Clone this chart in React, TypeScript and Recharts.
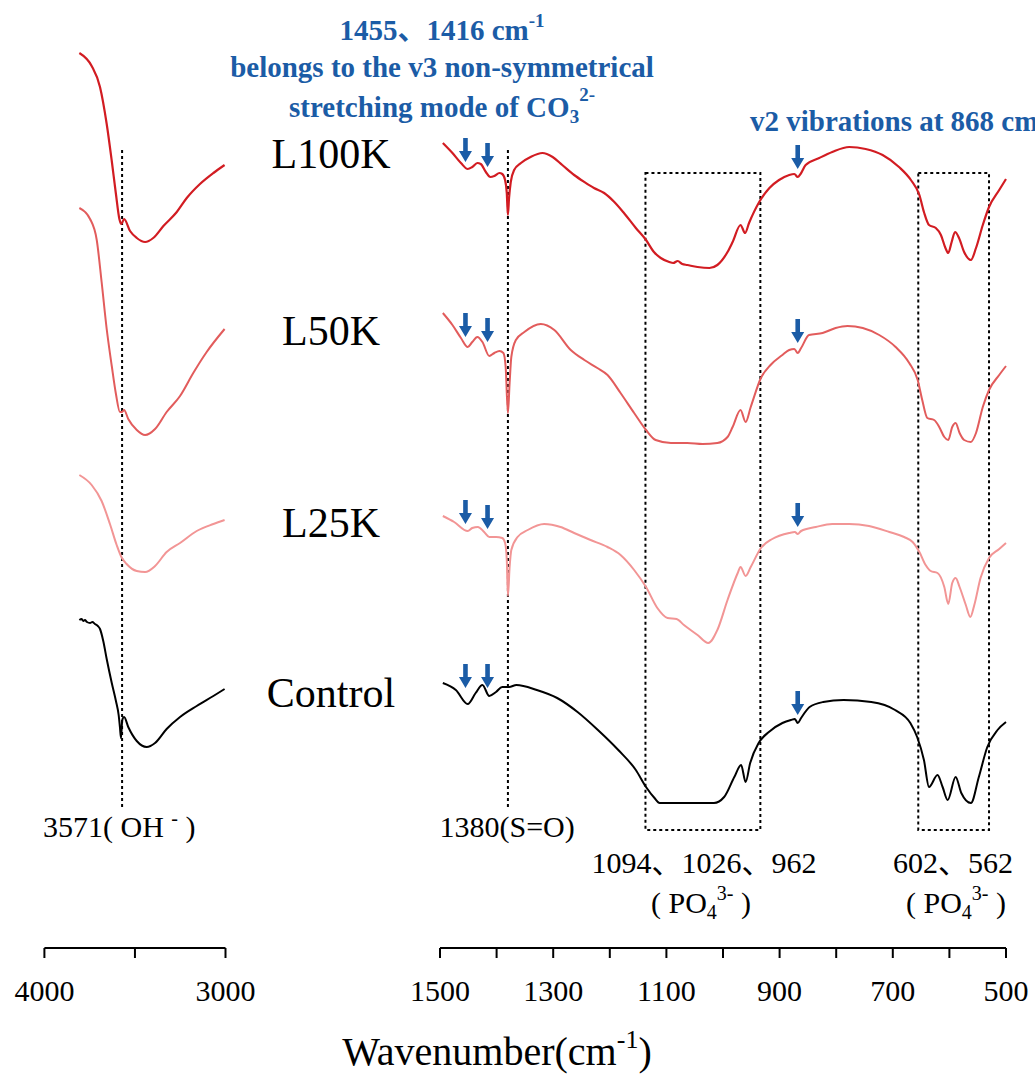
import React from 'react';
import {
  LineChart,
  Line,
  XAxis,
  YAxis,
  ReferenceLine,
  ReferenceArea,
  ReferenceDot,
} from 'recharts';

// FTIR spectra: [wavenumber (cm-1), stacked transmittance (a.u.)]
type Pt = [number, number];

// O–H stretching window (4000–3000 cm-1)
const L100K_OH: Pt[] = [
  [3807, 895], [3739, 882], [3693, 861], [3656, 824], [3628, 787], [3605, 754],
  [3586, 729], [3575, 724], [3560, 729], [3527, 717], [3490, 710], [3444, 706],
  [3399, 710], [3343, 722], [3269, 736], [3214, 750], [3141, 764], [3067, 775],
  [3005, 783],
];
const L50K_OH: Pt[] = [
  [3807, 740], [3748, 729], [3711, 708], [3684, 666], [3656, 619], [3628, 582],
  [3605, 554], [3583, 536], [3571, 536], [3560, 538], [3537, 529], [3490, 518],
  [3444, 513], [3389, 519], [3325, 536], [3251, 552], [3178, 575], [3104, 596],
  [3005, 619],
];
const L25K_OH: Pt[] = [
  [3807, 473], [3739, 463], [3684, 447], [3638, 424], [3601, 403], [3575, 391],
  [3546, 384], [3490, 377], [3444, 376], [3389, 382], [3325, 396], [3251, 405],
  [3159, 417], [3067, 424], [3005, 428],
];
const CONTROL_OH: Pt[] = [
  [3807, 328], [3795, 329], [3785, 327], [3776, 328], [3765, 326], [3748, 325],
  [3735, 326], [3721, 324], [3705, 322], [3693, 319], [3675, 307], [3656, 289],
  [3628, 265], [3605, 247], [3590, 233], [3583, 221], [3577, 210], [3570, 228],
  [3560, 231], [3537, 221], [3490, 207], [3435, 201], [3389, 205], [3325, 219],
  [3251, 231], [3159, 242], [3067, 252], [3005, 259],
];

// Fingerprint window (1500–500 cm-1)
const L100K_FP: Pt[] = [
  [1495, 805], [1478, 795], [1463, 785], [1451, 779], [1443, 781], [1434, 785],
  [1428, 784], [1419, 776], [1411, 771], [1404, 772], [1395, 775], [1390, 774],
  [1385, 768], [1382, 755], [1380, 733], [1378, 750], [1375, 766], [1369, 778],
  [1357, 785], [1340, 791], [1319, 795], [1301, 791], [1284, 783], [1263, 773],
  [1245, 766], [1228, 760], [1210, 755], [1192, 746], [1175, 735], [1154, 720],
  [1136, 708], [1122, 696], [1110, 690], [1095, 686], [1088, 685], [1080, 687],
  [1072, 684], [1063, 683], [1045, 681], [1024, 680], [1010, 683], [992, 696],
  [983, 706], [969, 723], [961, 715], [954, 725], [936, 746], [918, 760],
  [901, 768], [883, 773], [874, 774], [868, 771], [863, 774], [854, 783],
  [830, 790], [807, 796], [777, 801], [748, 799], [718, 793], [689, 781],
  [668, 768], [653, 753], [645, 736], [636, 723], [624, 720], [615, 713],
  [607, 700], [602, 695], [596, 706], [590, 716], [583, 710], [574, 696],
  [562, 688], [553, 700], [541, 723], [530, 741], [512, 758], [500, 769],
];
const L50K_FP: Pt[] = [
  [1495, 635], [1478, 623], [1463, 610], [1451, 601], [1443, 606], [1434, 611],
  [1425, 606], [1413, 592], [1404, 595], [1395, 597], [1388, 595], [1384, 581],
  [1380, 535], [1377, 565], [1374, 591], [1366, 608], [1351, 616], [1322, 624],
  [1298, 618], [1269, 598], [1245, 588], [1222, 580], [1204, 573], [1181, 555],
  [1157, 535], [1136, 518], [1119, 508], [1092, 505], [1063, 505], [1036, 504],
  [1010, 505], [992, 511], [983, 521], [969, 538], [960, 526], [951, 541],
  [933, 570], [916, 583], [895, 593], [883, 598], [874, 599], [868, 595],
  [862, 600], [848, 613], [824, 615], [801, 620], [780, 622], [753, 620],
  [724, 613], [695, 601], [671, 585], [656, 568], [648, 548], [639, 530],
  [627, 528], [618, 521], [609, 511], [602, 508], [595, 521], [589, 525],
  [582, 515], [574, 508], [562, 506], [553, 515], [541, 541], [530, 558],
  [512, 573], [500, 582],
];
const L25K_FP: Pt[] = [
  [1495, 432], [1475, 426], [1451, 417], [1443, 420], [1433, 421], [1422, 416],
  [1413, 411], [1401, 411], [1390, 410], [1385, 405], [1382, 388], [1380, 352],
  [1377, 381], [1374, 398], [1363, 411], [1345, 418], [1316, 424], [1287, 421],
  [1263, 415], [1234, 408], [1204, 401], [1181, 393], [1157, 378], [1136, 361],
  [1116, 340], [1098, 330], [1082, 329], [1069, 323], [1045, 313], [1026, 305],
  [1010, 318], [992, 348], [974, 375], [969, 381], [960, 372], [951, 381],
  [933, 400], [913, 409], [883, 415], [873, 416], [868, 414], [862, 417],
  [836, 421], [807, 424], [777, 424], [742, 422], [706, 416], [680, 411],
  [665, 406], [653, 396], [642, 383], [633, 377], [621, 375], [609, 361],
  [602, 344], [595, 365], [589, 370], [582, 361], [571, 343], [563, 331],
  [556, 343], [545, 370], [530, 390], [512, 399], [500, 405],
];
const CONTROL_FP: Pt[] = [
  [1495, 265], [1472, 258], [1451, 244], [1437, 255], [1425, 263], [1413, 252],
  [1401, 256], [1390, 261], [1378, 261], [1365, 263], [1329, 258], [1293, 250],
  [1257, 236], [1221, 218], [1185, 198], [1154, 178], [1136, 161], [1121, 150],
  [1112, 145], [1076, 145], [1016, 145], [998, 151], [980, 171], [968, 183],
  [960, 166], [952, 185], [937, 205], [919, 216], [895, 225], [880, 228],
  [873, 229], [868, 225], [862, 230], [847, 241], [823, 246], [787, 248],
  [738, 246], [696, 238], [669, 225], [657, 211], [645, 188], [636, 161],
  [621, 173], [612, 161], [603, 148], [589, 171], [579, 155], [562, 145],
  [548, 171], [533, 201], [515, 218], [500, 226],
];

const SAMPLE_NAMES = ['L100K', 'L50K', 'L25K', 'Control'];
const SAMPLE_COLORS = ['#d21c22', '#e25c5c', '#f29595', '#000000'];
const SAMPLE_WIDTHS = [2.2, 2, 2, 2];
const OH_SPECTRA = [L100K_OH, L50K_OH, L25K_OH, CONTROL_OH];
const FP_SPECTRA = [L100K_FP, L50K_FP, L25K_FP, CONTROL_FP];

// Carbonate markers: wavenumber and arrow-tip height for each sample
const CO3_BANDS = [1455, 1416, 868];
const CO3_TIPS = [
  [786, 781, 779],
  [611, 606, 605],
  [424, 419, 421],
  [260, 260, 233],
];

// Dotted guides and phosphate band windows
const OH_BAND = 3571;
const SO_BAND = 1380;
const GUIDE_SPAN: [number, number] = [141, 799];
const PO4_WINDOWS: [number, number][] = [[1137, 934], [655, 530]];
const PO4_SPAN: [number, number] = [118, 775];

// Axis ticks
const OH_TICKS = [4000, 3500, 3000];
const OH_LABELED = [4000, 3000];
const FP_TICKS = [1500, 1400, 1300, 1200, 1100, 1000, 900, 800, 700, 600, 500];
const FP_LABELED = [1500, 1300, 1100, 900, 700, 500];

const W = 1035;
const H = 1077;
const AXIS_Y = 948;
const Y_DOMAIN: [number, number] = [0, AXIS_Y];
const SERIF = "'Times New Roman', 'Liberation Serif', 'Noto Sans CJK SC', serif";
const BLUE = '#1b5ca6';

const rows = (pts: Pt[]) => pts.map(([w, t]) => ({ w, t }));

const DownArrow = (props: any) => {
  const { cx, cy } = props;
  if (cx == null || cy == null) return null;
  const d = `M${cx - 2.3},${cy - 24} L${cx + 2.3},${cy - 24} L${cx + 2.3},${cy - 11} L${cx + 6.5},${cy - 11} L${cx},${cy} L${cx - 6.5},${cy - 11} L${cx - 2.3},${cy - 11} Z`;
  return <path d={d} fill={BLUE} stroke="none" />;
};

const tickStyle = { fill: '#000', fontSize: 30, fontFamily: SERIF };

const layer: React.CSSProperties = { position: 'absolute', left: 0, top: 0 };

function OHPanel() {
  return (
    <LineChart width={W} height={H} margin={{ top: 0, bottom: 0, left: 44.4, right: W - 225.5 }}>
      <XAxis
        type="number"
        dataKey="w"
        domain={[3000, 4000]}
        reversed
        ticks={OH_TICKS}
        interval={0}
        tickFormatter={(v: number) => (OH_LABELED.includes(v) ? String(v) : '')}
        height={H - AXIS_Y}
        tickSize={10}
        tickMargin={22}
        tick={tickStyle}
        axisLine={{ stroke: '#000', strokeWidth: 2 }}
        tickLine={{ stroke: '#000', strokeWidth: 2 }}
      />
      <YAxis hide domain={Y_DOMAIN} type="number" />
      <ReferenceLine
        segment={[{ x: OH_BAND, y: GUIDE_SPAN[0] }, { x: OH_BAND, y: GUIDE_SPAN[1] }]}
        stroke="#000"
        strokeWidth={2}
        strokeDasharray="3 3"
      />
      {OH_SPECTRA.map((s, i) => (
        <Line
          key={SAMPLE_NAMES[i]}
          data={rows(s)}
          dataKey="t"
          type="monotone"
          stroke={SAMPLE_COLORS[i]}
          strokeWidth={SAMPLE_WIDTHS[i]}
          dot={false}
          isAnimationActive={false}
        />
      ))}
    </LineChart>
  );
}

function FingerprintPanel() {
  return (
    <LineChart width={W} height={H} margin={{ top: 0, bottom: 0, left: 440, right: W - 1006 }}>
      <XAxis
        type="number"
        dataKey="w"
        domain={[500, 1500]}
        reversed
        ticks={FP_TICKS}
        interval={0}
        tickFormatter={(v: number) => (FP_LABELED.includes(v) ? String(v) : '')}
        height={H - AXIS_Y}
        tickSize={10}
        tickMargin={22}
        tick={tickStyle}
        axisLine={{ stroke: '#000', strokeWidth: 2 }}
        tickLine={{ stroke: '#000', strokeWidth: 2 }}
      />
      <YAxis hide domain={Y_DOMAIN} type="number" />
      <ReferenceLine
        segment={[{ x: SO_BAND, y: GUIDE_SPAN[0] }, { x: SO_BAND, y: GUIDE_SPAN[1] }]}
        stroke="#000"
        strokeWidth={2}
        strokeDasharray="3 3"
      />
      {PO4_WINDOWS.map(([a, b]) => (
        <ReferenceArea
          key={a}
          x1={a}
          x2={b}
          y1={PO4_SPAN[0]}
          y2={PO4_SPAN[1]}
          fill="none"
          stroke="#000"
          strokeWidth={2}
          strokeDasharray="3 3"
        />
      ))}
      {FP_SPECTRA.map((s, i) => (
        <Line
          key={SAMPLE_NAMES[i]}
          data={rows(s)}
          dataKey="t"
          type="monotone"
          stroke={SAMPLE_COLORS[i]}
          strokeWidth={SAMPLE_WIDTHS[i]}
          dot={false}
          isAnimationActive={false}
        />
      ))}
      {CO3_TIPS.map((tips, i) =>
        CO3_BANDS.map((w, j) => (
          <ReferenceDot
            key={`${i}-${w}`}
            x={w}
            y={tips[j]}
            r={0}
            shape={DownArrow}
          />
        ))
      )}
    </LineChart>
  );
}

const NAME_BASELINES = [168, 345, 537, 707];

function Annotations() {
  return (
    <svg width={W} height={H} style={{ ...layer, pointerEvents: 'none' }} fontFamily={SERIF}>
      <g fill={BLUE} fontWeight="bold" fontSize={29}>
        <text x={442} y={40} textAnchor="middle">
          1455、1416 cm<tspan dy={-13} fontSize={19}>-1</tspan>
        </text>
        <text x={442} y={77} textAnchor="middle">belongs to the v3 non-symmetrical</text>
        <text x={442} y={117} textAnchor="middle">
          stretching mode of CO<tspan dy={6} fontSize={19}>3</tspan>
          <tspan dy={-22} fontSize={19}>2-</tspan>
        </text>
        <text x={750} y={131}>
          v2 vibrations at 868 cm<tspan dy={-13} fontSize={19}>-1</tspan>
        </text>
      </g>
      <g fill="#000">
        {SAMPLE_NAMES.map((n, i) => (
          <text key={n} x={331} y={NAME_BASELINES[i]} textAnchor="middle" fontSize={42}>
            {n}
          </text>
        ))}
        <text x={43} y={837} fontSize={30}>
          3571( OH <tspan dy={-12} fontSize={20}>-</tspan>
          <tspan dy={12}> )</tspan>
        </text>
        <text x={439.5} y={837} fontSize={30}>1380(S=O)</text>
        <text x={704} y={873} fontSize={30} textAnchor="middle">1094、1026、962</text>
        <text x={701} y={913} fontSize={30} textAnchor="middle">
          ( PO<tspan dy={6} fontSize={20}>4</tspan>
          <tspan dy={-19} fontSize={20}>3-</tspan>
          <tspan dy={13}> )</tspan>
        </text>
        <text x={953} y={873} fontSize={30} textAnchor="middle">602、562</text>
        <text x={956} y={913} fontSize={30} textAnchor="middle">
          ( PO<tspan dy={6} fontSize={20}>4</tspan>
          <tspan dy={-19} fontSize={20}>3-</tspan>
          <tspan dy={13}> )</tspan>
        </text>
        <text x={497} y={1065} fontSize={40} textAnchor="middle">
          Wavenumber(cm<tspan dy={-17} fontSize={26}>-1</tspan>
          <tspan dy={17}>)</tspan>
        </text>
      </g>
    </svg>
  );
}

export default function App() {
  return (
    <div style={{ ...layer, width: W, height: H, background: '#fff', overflow: 'hidden' }}>
      <div style={layer}>
        <OHPanel />
      </div>
      <div style={layer}>
        <FingerprintPanel />
      </div>
      <Annotations />
    </div>
  );
}
